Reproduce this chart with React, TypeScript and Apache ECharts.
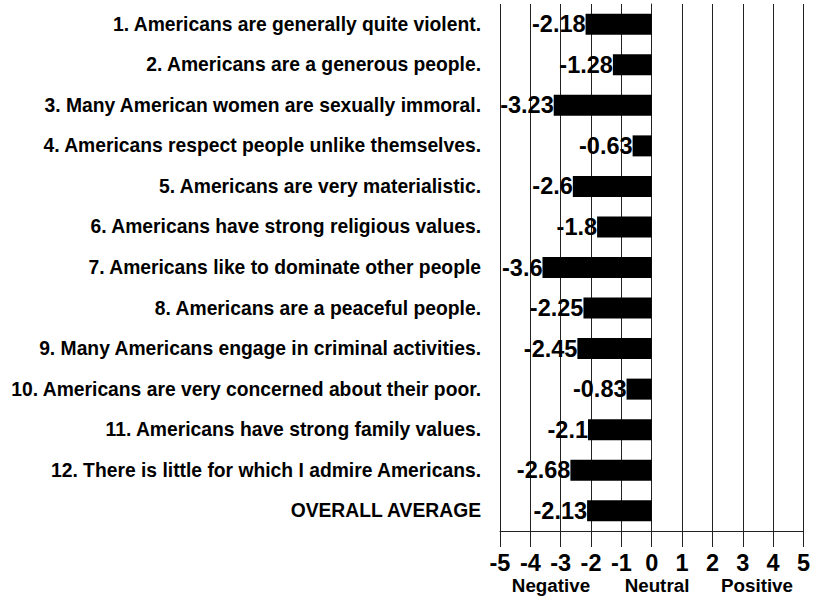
import React, { useEffect, useRef } from "react";
import * as echarts from "echarts";

const categories = [
  "1. Americans are generally quite violent.",
  "2. Americans are a generous people.",
  "3. Many American women are sexually immoral.",
  "4. Americans respect people unlike themselves.",
  "5. Americans are very materialistic.",
  "6. Americans have strong religious values.",
  "7. Americans like to dominate other people",
  "8. Americans are a peaceful people.",
  "9. Many Americans engage in criminal activities.",
  "10. Americans are very concerned about their poor.",
  "11. Americans have strong family values.",
  "12. There is little for which I admire Americans.",
  "OVERALL AVERAGE",
];

const values = [-2.18, -1.28, -3.23, -0.63, -2.6, -1.8, -3.6, -2.25, -2.45, -0.83, -2.1, -2.68, -2.13];

const scaleLabels = ["Negative", "Neutral", "Positive"];

const FONT = "'Liberation Sans', Arial, sans-serif";

export default function App() {
  const ref = useRef<HTMLDivElement>(null);
  useEffect(() => {
    if (!ref.current) return;
    const chart = echarts.init(ref.current, null, { renderer: "svg" });
    chart.setOption({
      animation: false,
      backgroundColor: "#ffffff",
      textStyle: { fontFamily: FONT },
      grid: { left: 500, right: 8, top: 4, bottom: 79, containLabel: false },
      xAxis: {
        type: "value",
        min: -5,
        max: 5,
        interval: 1,
        axisLine: { show: true, lineStyle: { color: "#222", width: 1 } },
        axisTick: { show: true, length: 16, lineStyle: { color: "#222" } },
        splitLine: { show: true, lineStyle: { color: "#222", width: 1 } },
        axisLabel: {
          margin: 22,
          fontSize: 23.5,
          lineHeight: 20,
          fontWeight: "bold",
          color: "#000",
          fontFamily: FONT,
        },
      },
      yAxis: {
        type: "category",
        inverse: true,
        data: categories,
        axisLine: { show: true, lineStyle: { color: "#222", width: 1 } },
        axisTick: { show: true, length: 13, alignWithLabel: true, lineStyle: { color: "#222" } },
        splitLine: { show: false },
        axisLabel: {
          margin: 19,
          fontSize: 19.3,
          fontWeight: "bold",
          color: "#000",
          fontFamily: FONT,
        },
      },
      graphic: scaleLabels.map((t, i) => ({
        type: "text",
        x: [551, 657, 757][i],
        y: 585,
        style: {
          text: t,
          fontSize: 18.8,
          lineHeight: 16,
          fontWeight: "bold",
          fontFamily: FONT,
          fill: "#000",
          textAlign: "center",
          textVerticalAlign: "middle",
        },
      })),
      series: [
        {
          type: "bar",
          data: values,
          barWidth: 21,
          itemStyle: { color: "#000" },
          label: {
            show: true,
            position: "left",
            distance: 0,
            fontSize: 23.5,
            fontWeight: "bold",
            color: "#000",
            fontFamily: FONT,
            formatter: (p: any) => String(p.value),
          },
        },
      ],
    });
    return () => chart.dispose();
  }, []);
  return <div ref={ref} style={{ width: 813, height: 610, position: "absolute", left: 0, top: 0 }} />;
}
